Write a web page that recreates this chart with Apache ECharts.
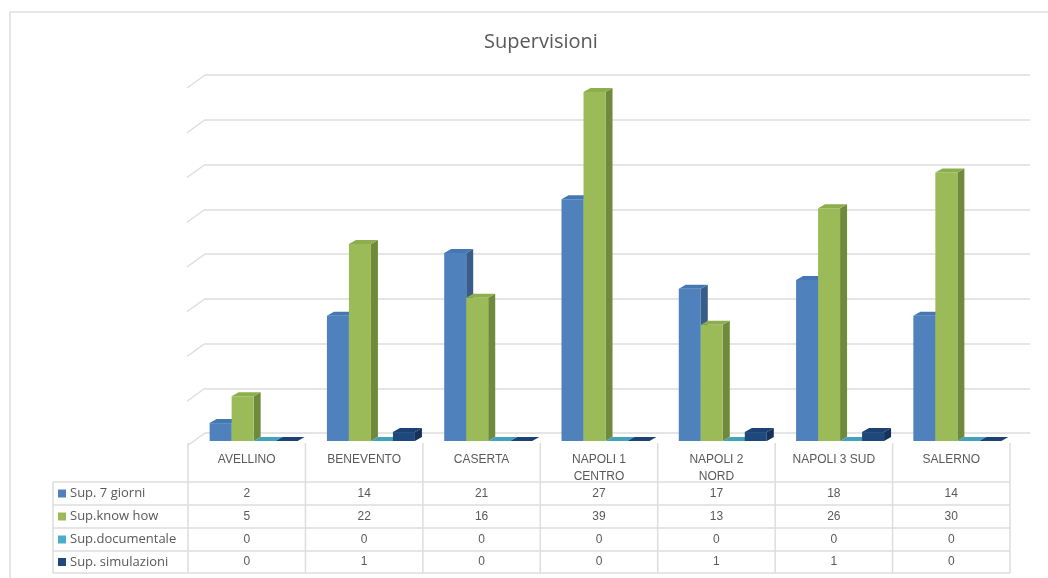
<!DOCTYPE html>
<html>
<head>
<meta charset="utf-8">
<script src="https://cdn.jsdelivr.net/npm/echarts@6/dist/echarts.min.js"></script>
<style>
  html, body { margin: 0; padding: 0; background: #ffffff; }
  #chart { width: 1048px; height: 578px; }
</style>
</head>
<body>
<div id="chart"></div>
<script>
// Data
const categories = ['AVELLINO', 'BENEVENTO', 'CASERTA', 'NAPOLI 1\nCENTRO', 'NAPOLI 2\nNORD', 'NAPOLI 3 SUD', 'SALERNO'];
const seriesNames = ['Sup. 7 giorni', 'Sup.know how', 'Sup.documentale', 'Sup. simulazioni'];
const supSetteGiorni = [2, 14, 21, 27, 17, 18, 14];
const supKnowHow = [5, 22, 16, 39, 13, 26, 30];
const supDocumentale = [0, 0, 0, 0, 0, 0, 0];
const supSimulazioni = [0, 1, 0, 0, 1, 1, 0];
const yTicks = [0, 5, 10, 15, 20, 25, 30, 35, 40];

const seriesValues = [supSetteGiorni, supKnowHow, supDocumentale, supSimulazioni];

// Styling: front / side / top colour of each 3D column
const palette = [
  { front: '#4F81BD', side: '#385D8A', top: '#4577B3' },
  { front: '#9BBB59', side: '#6E8A3A', top: '#8DAE4C' },
  { front: '#4BACC6', side: '#31859C', top: '#43A2BC' },
  { front: '#1F497D', side: '#15325A', top: '#1B4272' }
];
const DEPTH_X = 7, DEPTH_Y = 4;       // column depth projection
const SLANT_X = 18, SLANT_Y = 13;     // side wall projection
const textColor = '#595959';
const lineColor = '#DDDDDD';
const fontFamily = 'Liberation Sans, Arial, sans-serif';
const labelFamily = 'Open Sans, sans-serif';

function prismRenderer(idx) {
  return function (params, api) {
    const cat = api.value(0);
    const v = api.value(1);
    const base = api.coord([cat, 0]);
    const top = api.coord([cat, v]);
    const band = api.size([1, 0])[0];
    const w = band * 0.1876;
    const x = base[0] - 2 * w + idx * w;
    const y0 = base[1];
    const y1 = top[1];
    const c = palette[idx];
    return {
      type: 'group',
      children: [
        {
          type: 'polygon',
          shape: { points: [[x + w, y1], [x + w + DEPTH_X, y1 - DEPTH_Y], [x + w + DEPTH_X, y0 - DEPTH_Y], [x + w, y0]] },
          style: { fill: c.side }
        },
        {
          type: 'rect',
          shape: { x: x, y: y1, width: w, height: Math.max(y0 - y1, 0) },
          style: { fill: c.front }
        },
        {
          type: 'polygon',
          shape: { points: [[x, y1], [x + DEPTH_X, y1 - DEPTH_Y], [x + w + DEPTH_X, y1 - DEPTH_Y], [x + w, y1]] },
          style: { fill: c.top }
        }
      ]
    };
  };
}

// Slanted side-wall lines at each gridline
function slantRenderer(params, api) {
  const cs = params.coordSys;
  const y = api.coord([0, api.value(0)])[1];
  return {
    type: 'line',
    shape: { x1: cs.x, y1: y, x2: cs.x - SLANT_X, y2: y + SLANT_Y },
    style: { stroke: lineColor, lineWidth: 1.5 }
  };
}

// Data table below the plot
const tableLeft = 53, colStart = 188, colEnd = 1010;
const headerTop = 443, rowTops = [482, 505, 528, 551, 573];
const colW = (colEnd - colStart) / categories.length;
const tableGraphics = [];
function hLine(x1, x2, y) {
  tableGraphics.push({ type: 'line', shape: { x1: x1, y1: y, x2: x2, y2: y }, style: { stroke: lineColor, lineWidth: 1.5 }, silent: true });
}
function vLine(x, y1, y2) {
  tableGraphics.push({ type: 'line', shape: { x1: x, y1: y1, x2: x, y2: y2 }, style: { stroke: lineColor, lineWidth: 1.5 }, silent: true });
}
rowTops.forEach(function (y) { hLine(tableLeft, colEnd, y); });
vLine(tableLeft, rowTops[0], rowTops[rowTops.length - 1]);
for (let k = 0; k <= categories.length; k++) {
  vLine(colStart + k * colW, headerTop, rowTops[rowTops.length - 1]);
}
categories.forEach(function (name, k) {
  tableGraphics.push({
    type: 'text', silent: true,
    style: {
      x: colStart + (k + 0.5) * colW, y: 451, text: name,
      textAlign: 'center', textVerticalAlign: 'top',
      fill: textColor, font: '12px ' + fontFamily, lineHeight: 17
    }
  });
});
seriesNames.forEach(function (name, r) {
  const yc = (rowTops[r] + rowTops[r + 1]) / 2;
  tableGraphics.push({
    type: 'rect', silent: true,
    shape: { x: 58, y: yc - 4, width: 8, height: 8 },
    style: { fill: palette[r].front }
  });
  tableGraphics.push({
    type: 'text', silent: true,
    style: {
      x: 70, y: yc, text: name, textAlign: 'left', textVerticalAlign: 'middle',
      fill: textColor, font: '13px ' + labelFamily
    }
  });
  seriesValues[r].forEach(function (v, k) {
    tableGraphics.push({
      type: 'text', silent: true,
      style: {
        x: colStart + (k + 0.5) * colW, y: yc, text: String(v),
        textAlign: 'center', textVerticalAlign: 'middle',
        fill: textColor, font: '12px ' + fontFamily
      }
    });
  });
});
// chart frame
tableGraphics.unshift({
  type: 'rect', silent: true, z: -10,
  shape: { x: 10, y: 12, width: 1060, height: 620 },
  style: { fill: 'none', stroke: lineColor, lineWidth: 1.5 }
});

const chart = echarts.init(document.getElementById('chart'), null, { renderer: 'canvas' });
const option = {
  animation: false,
  backgroundColor: '#ffffff',
  title: {
    text: 'Supervisioni',
    left: 536, top: 27, textAlign: 'center',
    textStyle: { color: textColor, fontSize: 20, fontWeight: 'normal', fontFamily: labelFamily }
  },
  grid: [
    { left: 205, right: 18, top: 75, height: 358 },   // back wall
    { left: 195, right: 32, top: 83, height: 358 }    // column plane
  ],
  xAxis: [
    { type: 'category', gridIndex: 0, data: categories, axisLine: { show: false }, axisTick: { show: false }, axisLabel: { show: false } },
    { type: 'category', gridIndex: 1, data: categories, axisLine: { show: false }, axisTick: { show: false }, axisLabel: { show: false } }
  ],
  yAxis: [
    { type: 'value', gridIndex: 0, min: 0, max: 40, interval: 5, axisLine: { show: false }, axisTick: { show: false }, axisLabel: { show: false },
      splitLine: { lineStyle: { color: lineColor, width: 1.5 } } },
    { type: 'value', gridIndex: 1, min: 0, max: 40, interval: 5, show: false, splitLine: { show: false } }
  ],
  series: [
    {
      type: 'custom', xAxisIndex: 0, yAxisIndex: 0, silent: true,
      renderItem: slantRenderer,
      encode: { y: 0 },
      data: yTicks.map(function (t) { return [t]; })
    }
  ].concat(seriesNames.map(function (name, i) {
    return {
      name: name, type: 'custom', xAxisIndex: 1, yAxisIndex: 1, silent: true,
      renderItem: prismRenderer(i),
      encode: { x: 0, y: 1 },
      data: seriesValues[i].map(function (v, k) { return [k, v]; }),
      z: 2 + i
    };
  })),
  graphic: tableGraphics
};
chart.setOption(option);
</script>
</body>
</html>
